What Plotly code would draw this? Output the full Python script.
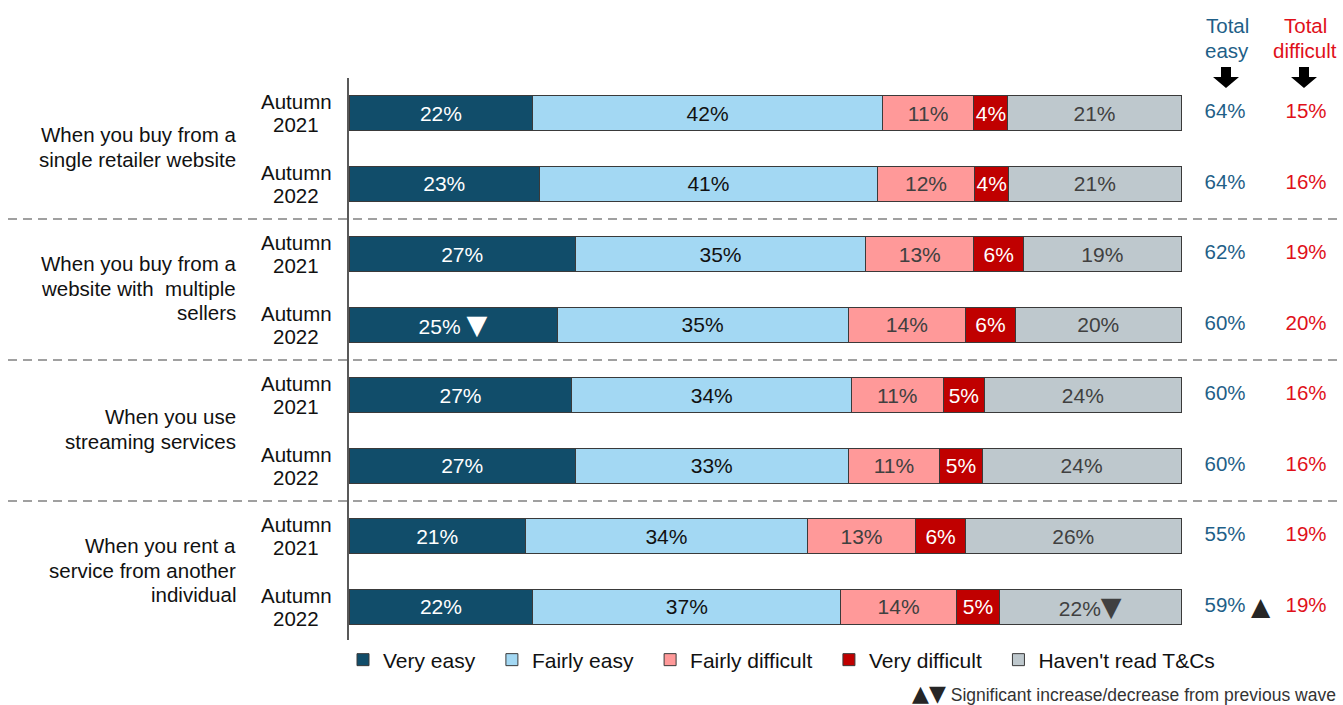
import plotly.graph_objects as go

# ---------------- data ----------------
groups = [["When you buy from a", "single retailer website"],
          ["When you buy from a", "website with  multiple", "sellers"],
          ["When you use", "streaming services"],
          ["When you rent a", "service from another", "individual"]]
waves = ["Autumn 2021", "Autumn 2022"] * 4

series_names = ["Very easy", "Fairly easy", "Fairly difficult", "Very difficult", "Haven't read T&Cs"]
very_easy = [22.1, 22.9, 27.2, 25.0, 26.8, 27.2, 21.2, 22.1]
fairly_easy = [42.0, 40.6, 34.9, 35.0, 33.6, 32.8, 33.9, 37.0]
fairly_difficult = [11.0, 11.7, 13.0, 14.1, 11.0, 11.0, 13.0, 13.9]
very_difficult = [4.1, 4.1, 6.0, 6.0, 5.0, 5.1, 6.0, 5.2]
havent_read = [20.8, 20.7, 18.9, 19.9, 23.6, 23.9, 25.9, 21.8]

total_easy = [64, 64, 62, 60, 60, 60, 55, 59]
total_difficult = [15, 16, 19, 20, 16, 16, 19, 19]

# significance markers: (series index, row) -> (separator, marker)
sig_bar = {(0, 3): (" ", "\u25BC"), (4, 7): ("", "\u25BC")}
sig_total_easy = {7: "\u25B2"}

colors = ["#114d6a", "#a3d8f3", "#ff9999", "#c00000", "#bec8cd"]
text_colors = ["#ffffff", "#111111", "#404040", "#ffffff", "#404040"]
easy_color = "#1f5f88"
diff_color = "#e0101a"
FONT = "Liberation Sans, Arial, sans-serif"

W, H = 1343, 705
L, R, T, B = 349, 1343, 78, 642      # plot area in pixels
BAR_END = 1181                        # pixel where 100% lands
XMAX = 100 * (R - L) / (BAR_END - L)
ROW_PX = (B - T) / 8


def px(x):
    return (x - L) / (R - L)


def py(y):
    return (B - y) / (B - T)


def xdata(p):
    return (p - L) / (BAR_END - L) * 100


def bar_text(si, r, v):
    s = f"{v:.0f}%"
    if (si, r) in sig_bar:
        sep, m = sig_bar[(si, r)]
        s += sep + f"<span style='font-family:DejaVu Sans;font-size:27px'>{m}</span>"
    return s


rows = list(range(len(waves)))
values = [very_easy, fairly_easy, fairly_difficult, very_difficult, havent_read]

fig = go.Figure()
for si, (name, vals) in enumerate(zip(series_names, values)):
    texts = [bar_text(si, r, v) for r, v in enumerate(vals)]
    fig.add_trace(go.Bar(
        name=name + "\u00a0\u00a0", x=vals, y=rows, orientation="h",
        marker=dict(color=colors[si], line=dict(color="#3a3a3a", width=1)),
        width=0.49,
        text=texts, textposition="inside", insidetextanchor="middle",
        textangle=0, constraintext="none",
        textfont=dict(family=FONT, size=21, color=text_colors[si]),
        hoverinfo="skip",
    ))

# totals columns
fig.add_trace(go.Scatter(
    x=[xdata(1225)] * len(rows), y=rows, mode="text",
    text=[f"{v}%" for v in total_easy], showlegend=False,
    textfont=dict(family=FONT, size=20.5, color=easy_color), hoverinfo="skip"))
fig.add_trace(go.Scatter(
    x=[xdata(1306)] * len(rows), y=rows, mode="text",
    text=[f"{v}%" for v in total_difficult], showlegend=False,
    textfont=dict(family=FONT, size=20.5, color=diff_color), hoverinfo="skip"))

annotations = []
# significance marks next to totals
for r, m in sig_total_easy.items():
    annotations.append(dict(x=px(1261), y=r, xref="paper", yref="y", text=m,
                            xanchor="center", yanchor="middle", showarrow=False,
                            font=dict(family="DejaVu Sans", size=25, color="#262626")))

# wave labels (two lines each, tight spacing)
off = 11.5 / ROW_PX
for r, w in enumerate(waves):
    for k, part in enumerate(w.split(" ")):
        annotations.append(dict(x=px(296), y=r + (k - 0.5) * 2 * off, xref="paper", yref="y",
                                text=part, xanchor="center", yanchor="middle", showarrow=False,
                                font=dict(family=FONT, size=20.5, color="#111111")))
# group labels
lh = 24.5 / ROW_PX
for g, lines in enumerate(groups):
    n = len(lines)
    for k, line in enumerate(lines):
        annotations.append(dict(x=px(238), y=2 * g + 0.48 + (k - (n - 1) / 2) * lh,
                                xref="paper", yref="y", text=line,
                                xanchor="right", yanchor="middle", showarrow=False,
                                font=dict(family=FONT, size=20.5, color="#111111")))
# headers
for cx, lines, col in [(1227, ["Total", "easy"], easy_color), (1305, ["Total", "difficult"], diff_color)]:
    for k, line in enumerate(lines):
        annotations.append(dict(x=px(cx), y=py(26 + 24 * k), xref="paper", yref="paper", text=line,
                                xanchor="center", yanchor="middle", showarrow=False,
                                font=dict(family=FONT, size=20.5, color=col)))
# footnote
annotations.append(dict(x=px(1338), y=py(693), xref="paper", yref="paper", xanchor="right", yanchor="middle",
                        text="<span style='font-size:22px;color:#262626;font-family:DejaVu Sans'>\u25B2\u25BC</span> Significant increase/decrease from previous wave",
                        showarrow=False, font=dict(family=FONT, size=17.5, color="#333333")))

shapes = []
for yv in [1.5, 3.5, 5.5]:
    shapes.append(dict(type="line", xref="paper", yref="y", x0=px(8), x1=px(1343), y0=yv, y1=yv,
                       line=dict(color="#a0a0a0", width=2, dash="9px,6px")))


def arrow_path(cx, top):
    pts = [(cx - 5, top), (cx + 5, top), (cx + 5, top + 10), (cx + 13, top + 10),
           (cx, top + 21), (cx - 13, top + 10), (cx - 5, top + 10)]
    return "M " + " L ".join(f"{px(a):.5f},{py(b):.5f}" for a, b in pts) + " Z"


for cx in [1226, 1304]:
    shapes.append(dict(type="path", xref="paper", yref="paper", path=arrow_path(cx, 67),
                       fillcolor="#000000", line=dict(width=0)))

fig.update_layout(
    width=W, height=H, barmode="stack",
    margin=dict(l=L, r=W - R, t=T, b=H - B, pad=0),
    plot_bgcolor="white", paper_bgcolor="white",
    xaxis=dict(range=[0, XMAX], visible=False, fixedrange=True),
    yaxis=dict(range=[7.5, -0.5], showticklabels=False, ticks="", showgrid=False, zeroline=False,
               showline=True, linecolor="#595959", linewidth=1.5, fixedrange=True),
    legend=dict(orientation="h", x=px(343), y=py(660), xanchor="left", yanchor="middle",
                font=dict(family=FONT, size=21, color="#111111"), traceorder="normal",
                itemclick=False, itemdoubleclick=False),
    annotations=annotations, shapes=shapes, showlegend=True,
    font=dict(family=FONT),
)

fig.write_html("out.html", config={"displayModeBar": False},
               post_script="document.body.style.margin='0';document.body.style.overflow='hidden';")
